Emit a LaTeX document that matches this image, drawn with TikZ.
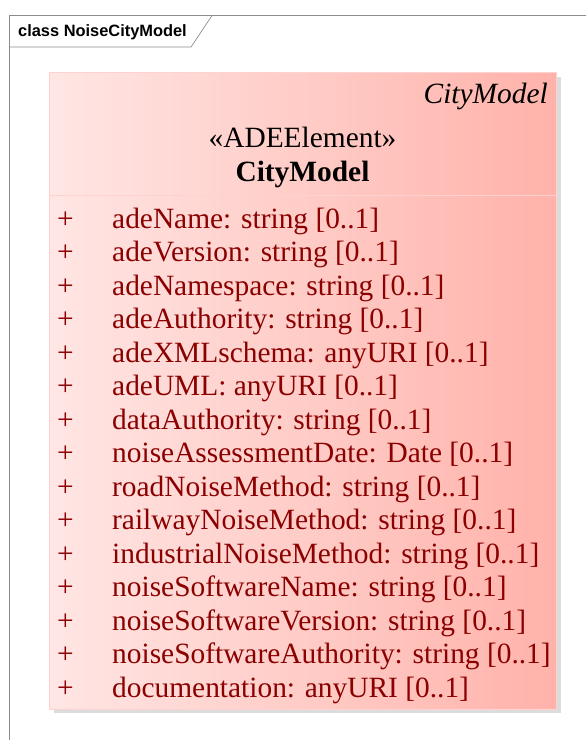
\documentclass[tikz,border=0pt]{standalone}
\usepackage{fontspec}
\setmainfont{Liberation Serif}
\newfontfamily\framefont{Liberation Sans}
\usetikzlibrary{positioning, calc}
\definecolor{frameEdge}{RGB}{140, 140, 140}
\definecolor{classLeft}{RGB}{255, 230, 228}
\definecolor{classRight}{RGB}{255, 178, 170}
\definecolor{classEdge}{RGB}{255, 210, 210}
\definecolor{classShadow}{RGB}{220, 220, 220}
\definecolor{attrText}{RGB}{139,   0,   0}
\tikzset{
  frameline/.style={
    draw=frameEdge, line width=0.7pt,
  },
  framelabel/.style={
    font=\framefont\fontsize{16.4}{18}\selectfont\bfseries, inner sep=0pt,
  },
  classbox/.style={
    draw=classEdge, left color=classLeft, right color=classRight,
    line width=0.5pt, inner sep=0pt,
  },
  classtext/.style={
    font=\fontsize{29.4}{33.5}\selectfont, inner sep=0pt, text=black,
  },
  attrtext/.style={
    font=\fontsize{29.4}{33.5}\selectfont, inner sep=0pt, text=attrText,
    anchor=base west,
  },
}

\begin{document}
\begin{tikzpicture}[x=1pt, y=-1pt]

\useasboundingbox (0,0) rectangle (586,740);

% =========================================================================
% diagram frame with its name tab
% =========================================================================

\draw[frameline] (9.5,745) |- (590,15.5);
\draw[frameline] (9.5,47) -- (191,47) -- (212,15.5);
\node[framelabel, anchor=base west] (frame) at (18,36) {class NoiseCityModel};

% =========================================================================
% class box
% =========================================================================

\fill[classShadow] (54,77) rectangle (561,713);
\node[classbox, anchor=north west, minimum width=507pt, minimum height=637pt]
  (cls) at (49,72) {};
\draw[draw=classEdge, line width=0.6pt]
  ($(cls.west |- 0,195)$) -- ($(cls.east |- 0,195)$);

\node[classtext, anchor=base east, font=\fontsize{29.4}{33.5}\selectfont\itshape]
  (pkg) at (548,103) {CityModel};
\node[classtext, anchor=base] (stereo) at (302.5,147) {«ADEElement»};
\node[classtext, anchor=base, font=\fontsize{29.4}{33.5}\selectfont\bfseries]
  (name) at (302.5,181) {CityModel};

% =========================================================================
% attributes
% =========================================================================

\foreach \attr [count=\i from 0] in {
  adeName: string [0..1],
  adeVersion: string [0..1],
  adeNamespace: string [0..1],
  adeAuthority: string [0..1],
  adeXMLschema: anyURI [0..1],
  adeUML: anyURI [0..1],
  dataAuthority: string [0..1],
  noiseAssessmentDate: Date [0..1],
  roadNoiseMethod: string [0..1],
  railwayNoiseMethod: string [0..1],
  industrialNoiseMethod: string [0..1],
  noiseSoftwareName: string [0..1],
  noiseSoftwareVersion: string [0..1],
  noiseSoftwareAuthority: string [0..1],
  documentation: anyURI [0..1]}{
  \node[attrtext] (vis\i) at (57,228+33.5*\i) {+};
  \node[attrtext] (attr\i) at (112,228+33.5*\i) {\attr};
}

\end{tikzpicture}
\end{document}
